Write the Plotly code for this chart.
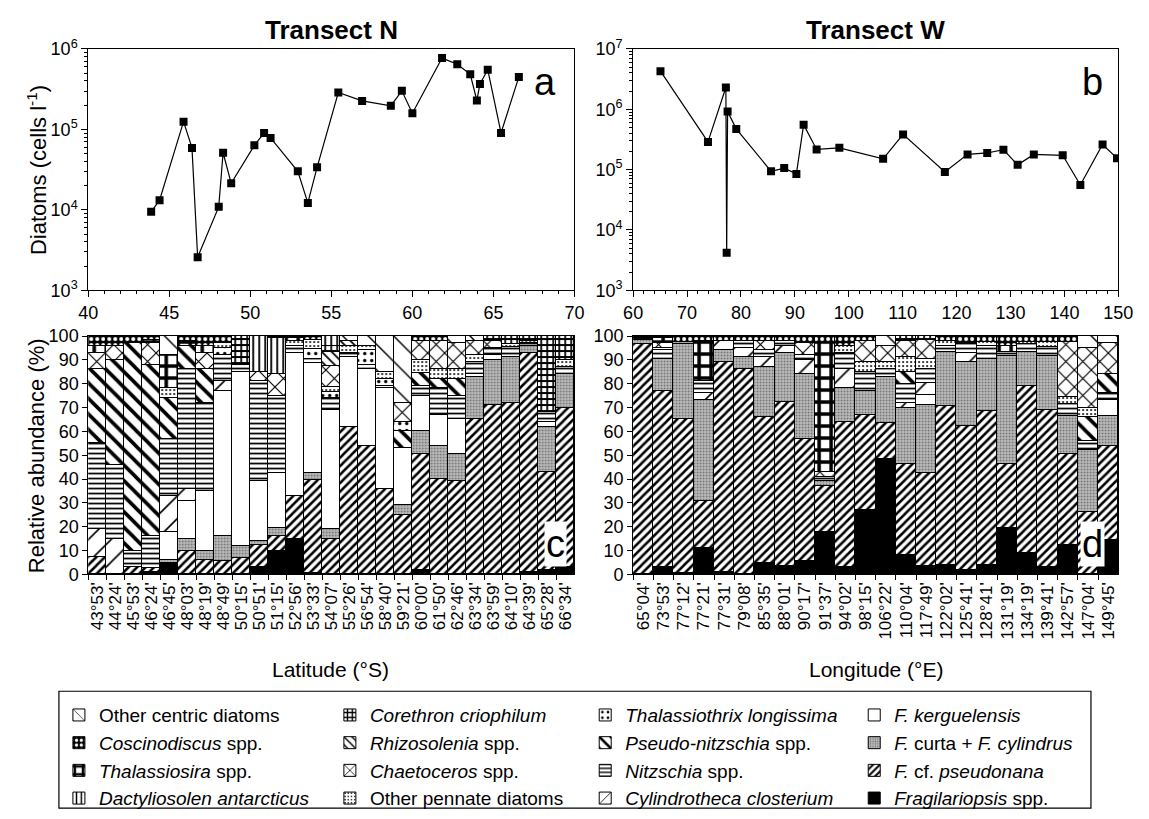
import plotly.graph_objects as go

W, H = 1149, 819
FONT = "Liberation Sans, Arial, sans-serif"

# ---------------- top panels: total diatom abundance ----------------
lat_a = [43.88, 44.40, 45.88, 46.40, 46.75, 48.05, 48.32, 48.82, 50.25, 50.85, 51.25,
         52.93, 53.55, 54.12, 55.43, 56.90, 58.67, 59.35, 60.00, 61.83, 62.77, 63.57,
         63.98, 64.17, 64.65, 65.47, 66.57]
cells_a = [9460, 13200, 125000, 58900, 2580, 10900, 51300, 21400, 63400, 90300, 78500,
           30200, 12200, 33800, 288000, 226000, 197000, 302000, 159000, 771000, 646000,
           484000, 229000, 367000, 552000, 90300, 450000]

lon_b = [65.07, 73.88, 77.20, 77.35, 77.52, 79.13, 85.58, 88.02, 90.28, 91.62, 94.03,
         98.25, 106.37, 110.07, 117.82, 122.03, 125.68, 128.68, 131.32, 134.32, 139.68,
         142.95, 147.07, 149.75]
cells_b = [4290000, 288000, 2300000, 4190, 916000, 474000, 94000, 106000, 85000, 557000,
           216000, 230000, 151000, 384000, 91600, 179000, 189000, 214000, 120000, 179000,
           173000, 55700, 261000, 155000]

# ---------------- bottom panels: station labels ----------------
lat_labels = ["43°53'", "44°24'", "45°53'", "46°24'", "46°45'", "48°03'", "48°19'", "48°49'",
              "50°15'", "50°51'", "51°15'", "52°56'", "53°33'", "54°07'", "55°26'", "56°54'",
              "58°40'", "59°21'", "60°00'", "61°50'", "62°46'", "63°34'", "63°59'", "64°10'",
              "64°39'", "65°28'", "66°34'"]
lon_labels = ["65°04'", "73°53'", "77°12'", "77°21'", "77°31'", "79°08'", "85°35'", "88°01'",
              "90°17'", "91°37'", "94°02'", "98°15'", "106°22'", "110°04'", "117°49'",
              "122°02'", "125°41'", "128°41'", "131°19'", "134°19'", "139°41'", "142°57'",
              "147°04'", "149°45'"]

# ---------------- relative abundance (%), Transect N ----------------
N_frag   = [0, 0, 0, 1, 5, 0, 0, 0, 0, 3, 10, 15, 0.5, 0, 0, 0, 0, 0, 2, 0, 0, 0, 0, 0, 1, 2, 3]
N_fpseu  = [7.5, 0, 3, 1.5, 0, 10, 6, 5.5, 7, 9.5, 6, 18, 39, 15, 62, 54, 36, 25, 48.5, 40, 39, 65, 71, 72, 92, 41, 67]
N_fcurta = [0, 0, 0, 0, 1, 5, 4, 10.5, 5, 1.5, 3.5, 0, 3, 4, 0, 0, 0, 4, 9.5, 14, 11.5, 18, 19, 19, 3, 19, 14]
N_fkerg  = [0, 0, 0, 0, 12, 16, 25, 61, 73, 25, 23, 60, 46, 50, 29, 32, 42, 24, 15, 13, 14.5, 1, 2, 0, 0, 2, 0]
N_cyl    = [11.5, 15, 0, 0, 15, 5, 0, 4, 0, 0, 0, 0, 0, 0, 0, 0, 0, 0, 0, 0, 0, 0, 0, 0, 0, 0, 0]
N_nitz   = [36, 31, 7, 13.5, 24, 50, 37, 11, 3, 42, 32.5, 3, 2, 5, 2, 2, 1, 0, 4, 11, 10, 5, 3, 4.5, 1, 4, 3]
N_pseudo = [31, 44, 87, 72, 17, 10, 14, 0, 0, 0, 0, 0, 0, 0, 0, 0, 0, 7, 5.5, 4, 7, 0, 0, 0, 0, 0, 0]
N_thalx  = [0, 0, 0, 0, 0, 0, 0, 3, 0, 0, 0, 0, 4, 2.5, 0, 6, 3, 4, 0, 0, 0, 0, 0, 0, 0, 0, 0]
N_othpen = [0, 0, 0, 0, 4, 0, 0, 2, 0, 0, 0, 2, 4, 2, 3, 2, 3, 0, 5.5, 4, 4, 3, 0, 1, 1, 0, 3]
N_chaet  = [7, 6, 0, 9, 0, 0, 7, 0, 0, 4, 9, 0, 0, 9, 0, 0, 0, 8, 8, 12, 11, 6, 3, 0, 0, 0, 0]
N_rhizo  = [0, 0, 0, 0, 0, 0, 0, 0, 0, 0, 0, 0, 0, 6, 2, 0, 0, 0, 0, 0, 0, 0, 0, 0, 0, 0, 0]
N_coreth = [0, 0, 0, 0, 0, 0, 0, 0, 12, 0, 0, 0, 0, 2.5, 0, 0, 0, 0, 0, 0, 0, 0, 2, 3.5, 2, 32, 10]
N_dactyl = [0, 0, 0, 0, 0, 0, 0, 0, 0, 15, 15, 0, 0, 4, 0, 0, 0, 0, 0, 0, 0, 0, 0, 0, 0, 0, 0]
N_thalss = [3, 0, 0, 1.5, 14, 2, 3, 0, 0, 0, 0, 1, 0, 0, 0, 0, 0, 0, 0, 0, 0, 0, 0, 0, 0, 0, 0]
N_cosc   = [4, 4, 3, 1.5, 0, 2, 4, 3, 0, 0, 1, 1, 1.5, 0, 0, 0, 0, 0, 2, 2, 0, 0, 0, 0, 0, 0, 0]
N_othcen = [0, 0, 0, 0, 8, 0, 0, 0, 0, 0, 0, 0, 0, 0, 2, 4, 15, 28, 0, 0, 3, 2, 0, 0, 0, 0, 0]

# ---------------- relative abundance (%), Transect W ----------------
W_frag   = [0, 3, 0.5, 11, 1, 0, 5, 3.5, 5.5, 18, 3, 27, 48.5, 8, 3.5, 4, 2, 4, 19.5, 9, 3, 12.5, 0, 14.5]
W_fpseu  = [96.5, 74, 64.5, 20, 88, 86, 61, 69, 51.5, 19, 61, 40, 15, 38.5, 39, 66.5, 60.3, 64.5, 27, 70, 66, 38, 26, 39.5]
W_fcurta = [2, 13.5, 31.5, 42, 5, 5, 21, 20.5, 27, 2, 14, 10, 19.5, 23.5, 28.7, 22.7, 26.7, 22, 45, 14.5, 22.5, 16, 26, 12.5]
W_fkerg  = [0, 0, 0, 0, 0, 0, 0, 0, 0, 0, 0, 0, 0, 0, 4, 0, 0, 0, 0, 0, 0, 0, 0, 6.5]
W_cyl    = [0, 0, 0, 3, 4, 4, 4, 3, 6, 0, 8, 0, 0, 2, 5, 0, 4, 0, 0, 0, 0, 0, 0, 0]
W_nitz   = [0.5, 3.5, 1, 5, 0, 3, 3, 2, 2, 2, 7, 8, 3, 8, 6, 2.5, 3.6, 5.5, 2, 3, 4, 5, 4, 3]
W_pseudo = [0, 0, 0, 0, 0, 0, 0, 0, 0, 0, 0, 0, 0, 5, 0, 0, 0, 0, 0, 0, 0, 0, 10, 8]
W_thalx  = [0, 0, 0, 0, 0, 0, 0, 0, 0, 0, 0, 0, 0, 0, 0, 0, 0, 0, 0, 0, 0, 0, 0, 0]
W_othpen = [0, 1, 0, 0, 0, 0, 0, 0, 0, 0, 3, 4, 3, 6, 4, 2, 0, 1.5, 0, 1, 2, 3, 4, 0]
W_chaet  = [0, 2, 0, 0, 0, 0, 4, 0, 5, 2, 0, 9, 7, 7, 8, 0, 0, 0, 0, 0, 0, 23, 25, 13]
W_rhizo  = [0, 0, 0, 0, 0, 0, 0, 0, 0, 0, 0, 0, 0, 0, 0, 0, 0, 0, 0, 0, 0, 0, 0, 0]
W_coreth = [0, 0, 0, 0, 0, 0, 0, 0, 0, 0, 0, 0, 0, 2, 1.8, 0, 0, 0, 0, 0, 0, 0, 0, 0]
W_dactyl = [0, 0, 0, 0, 0, 0, 0, 0, 0, 0, 0, 0, 0, 0, 0, 0, 0, 0, 0, 0, 0, 0, 0, 0]
W_thalss = [0, 2, 0, 17, 0, 0, 0, 0, 0, 54, 0, 0, 0, 0, 0, 0, 0, 0, 2.5, 0, 0, 0, 0, 0]
W_cosc   = [1, 1, 2.5, 2, 2, 2, 2, 2, 3, 3, 4, 2, 0, 0, 0, 2.3, 3.4, 2.5, 4, 2.5, 2.5, 2.5, 0, 0]
W_othcen = [0, 0, 0, 0, 0, 0, 0, 0, 0, 0, 0, 0, 4, 0, 0, 0, 0, 0, 0, 0, 0, 0, 5, 3]

# taxa in stacking order (bottom -> top): (name, N series, W series, legend, rank)
taxa = [
    ("<i>Fragilariopsis</i> spp.", N_frag, W_frag, "legend4", 4),
    ("<i>F.</i> cf. <i>pseudonana</i>", N_fpseu, W_fpseu, "legend4", 3),
    ("<i>F.</i> curta + <i>F. cylindrus</i>", N_fcurta, W_fcurta, "legend4", 2),
    ("<i>F. kerguelensis</i>", N_fkerg, W_fkerg, "legend4", 1),
    ("<i>Cylindrotheca closterium</i>", N_cyl, W_cyl, "legend3", 4),
    ("<i>Nitzschia</i> spp.", N_nitz, W_nitz, "legend3", 3),
    ("<i>Pseudo-nitzschia</i> spp.", N_pseudo, W_pseudo, "legend3", 2),
    ("<i>Thalassiothrix longissima</i>", N_thalx, W_thalx, "legend3", 1),
    ("Other pennate diatoms", N_othpen, W_othpen, "legend2", 4),
    ("<i>Chaetoceros</i> spp.", N_chaet, W_chaet, "legend2", 3),
    ("<i>Rhizosolenia</i> spp.", N_rhizo, W_rhizo, "legend2", 2),
    ("<i>Corethron criophilum</i>", N_coreth, W_coreth, "legend2", 1),
    ("<i>Dactyliosolen antarcticus</i>", N_dactyl, W_dactyl, "legend", 4),
    ("<i>Thalassiosira</i> spp.", N_thalss, W_thalss, "legend", 3),
    ("<i>Coscinodiscus</i> spp.", N_cosc, W_cosc, "legend", 2),
    ("Other centric diatoms", N_othcen, W_othcen, "legend", 1),
]

# fill styles, same order as taxa
styles = [
    dict(bg="black", fg="black", shape="", size=8, sol=0.3),
    dict(bg="white", fg="black", shape="/", size=6, sol=0.42),
    dict(bg="#bdbdbd", fg="#6e6e6e", shape=".", size=3, sol=0.3),
    dict(bg="white", fg="black", shape="", size=8, sol=0.3),
    dict(bg="white", fg="black", shape="/", size=16, sol=0.1),
    dict(bg="white", fg="black", shape="-", size=5, sol=0.35),
    dict(bg="white", fg="black", shape="\\", size=11, sol=0.33),
    dict(bg="white", fg="black", shape=".", size=7, sol=0.18),
    dict(bg="white", fg="black", shape=".", size=4, sol=0.2),
    dict(bg="white", fg="black", shape="x", size=12, sol=0.18),
    dict(bg="white", fg="black", shape="\\", size=7, sol=0.25),
    dict(bg="white", fg="black", shape="+", size=6, sol=0.5),
    dict(bg="white", fg="black", shape="|", size=6, sol=0.3),
    dict(bg="white", fg="black", shape="+", size=12, sol=0.5),
    dict(bg="black", fg="white", shape=".", size=6, sol=0.35),
    dict(bg="white", fg="black", shape="\\", size=18, sol=0.08),
]

fig = go.Figure()

fig.add_trace(go.Scatter(x=lat_a, y=cells_a, mode="lines+markers", xaxis="x", yaxis="y",
                         line=dict(color="black", width=1.2),
                         marker=dict(symbol="square", size=8, color="black"), showlegend=False))
fig.add_trace(go.Scatter(x=lon_b, y=cells_b, mode="lines+markers", xaxis="x2", yaxis="y2",
                         line=dict(color="black", width=1.2),
                         marker=dict(symbol="square", size=8, color="black"), showlegend=False))

for (name, nv, wv, lg, rank), st in zip(taxa, styles):
    marker = dict(color=st["bg"], line=dict(color="black", width=1),
                  pattern=dict(shape=st["shape"], size=st["size"], solidity=st["sol"],
                               fgcolor=st["fg"], bgcolor=st["bg"], fillmode="replace"))
    fig.add_trace(go.Bar(x=lat_labels, y=nv, name=name, xaxis="x3", yaxis="y3", marker=marker,
                         legend=lg, legendrank=rank, legendgroup=name, showlegend=True))
    fig.add_trace(go.Bar(x=lon_labels, y=wv, name=name, xaxis="x4", yaxis="y4", marker=marker,
                         legend=lg, legendgroup=name, showlegend=False))

XA = [80 / W, 577 / W]
XB = [637 / W, 1133 / W]
YT = [1 - 286 / H, 1 - 38 / H]
YB = [1 - 578 / H, 1 - 333 / H]

axfont = dict(family=FONT, size=18, color="black")
lblfont = dict(family=FONT, size=17, color="black")
common = dict(showline=True, linecolor="black", linewidth=1, mirror=True, ticks="outside",
              tickcolor="black", showgrid=False, zeroline=False)

def logminor(lo, hi):
    return [m * 10 ** e for e in range(lo, hi) for m in range(2, 10)]

fig.update_layout(
    width=W, height=H, margin=dict(l=0, r=0, t=0, b=0),
    paper_bgcolor="white", plot_bgcolor="white",
    font=dict(family=FONT, color="black"),
    barmode="stack", bargap=0,
    xaxis=dict(domain=XA, anchor="y", range=[40, 70], dtick=5, ticklen=6, tickfont=axfont,
               minor=dict(dtick=1, ticks="outside", ticklen=3, tickcolor="black"), **common),
    yaxis=dict(domain=YT, anchor="x", type="log", range=[3, 6], tickvals=[1e3, 1e4, 1e5, 1e6],
               ticktext=["10<sup>3</sup>", "10<sup>4</sup>", "10<sup>5</sup>", "10<sup>6</sup>"],
               ticklen=6, tickfont=axfont,
               minor=dict(tickvals=logminor(3, 6), ticks="outside", ticklen=3,
                          tickcolor="black"), **common),
    xaxis2=dict(domain=XB, anchor="y2", range=[60, 150], dtick=10, ticklen=6, tickfont=axfont,
                minor=dict(dtick=2, ticks="outside", ticklen=3, tickcolor="black"), **common),
    yaxis2=dict(domain=YT, anchor="x2", type="log", range=[3, 7],
                tickvals=[1e3, 1e4, 1e5, 1e6, 1e7],
                ticktext=["10<sup>3</sup>", "10<sup>4</sup>", "10<sup>5</sup>", "10<sup>6</sup>",
                          "10<sup>7</sup>"],
                ticklen=6, tickfont=axfont,
                minor=dict(tickvals=logminor(3, 7), ticks="outside", ticklen=3,
                           tickcolor="black"), **common),
    xaxis3=dict(domain=XA, anchor="y3", type="category", range=[-0.5, 26.5], tickangle=-90,
                dtick=1, tickson="boundaries", ticklen=5, tickfont=lblfont, **common),
    yaxis3=dict(domain=YB, anchor="x3", range=[0, 100], dtick=10, ticklen=5, tickfont=axfont,
                **common),
    xaxis4=dict(domain=XB, anchor="y4", type="category", range=[-0.5, 23.5], tickangle=-90,
                dtick=1, tickson="boundaries", ticklen=5, tickfont=lblfont, **common),
    yaxis4=dict(domain=YB, anchor="x4", range=[0, 100], dtick=10, ticklen=5, tickfont=axfont,
                **common),
)

legfont = dict(family=FONT, size=19, color="black")
ly = 1 - 703 / H
for key, xpx in [("legend", 50), ("legend2", 327), ("legend3", 588), ("legend4", 863)]:
    fig.update_layout({key: dict(x=xpx / W, y=ly, xanchor="left", yanchor="top",
                                 orientation="v", traceorder="normal", font=legfont,
                                 bgcolor="rgba(0,0,0,0)", borderwidth=0, itemclick=False)})

fig.add_shape(type="rect", xref="paper", yref="paper", x0=50 / W, x1=1105 / W,
              y0=1 - 818 / H, y1=1 - 698 / H, line=dict(color="black", width=1.2))

def ann(text, xpx, ypx, size, bold=False, angle=0, bg=None, xanchor="center"):
    fig.add_annotation(text=("<b>%s</b>" % text) if bold else text, x=xpx / W, y=1 - ypx / H,
                       xref="paper", yref="paper", showarrow=False, textangle=angle,
                       xanchor=xanchor, yanchor="middle",
                       font=dict(family=FONT, size=size, color="black"),
                       bgcolor=bg, borderpad=1)

ann("Transect N", 329, 19, 26, bold=True)
ann("Transect W", 885, 19, 26, bold=True)
ann("Diatoms (cells l<sup>-1</sup>)", 27, 162, 22, angle=-90)
ann("Relative abundance (%)", 27, 456, 22, angle=-90)
ann("Latitude (°S)", 328, 676, 21)
ann("Longitude (°E)", 885, 676, 21)
ann("a", 547, 72, 38)
ann("b", 1107, 72, 38)
ann("c", 558, 547, 38, bg="white")
ann("d", 1107, 547, 38, bg="white")

fig.write_html("out.html")
